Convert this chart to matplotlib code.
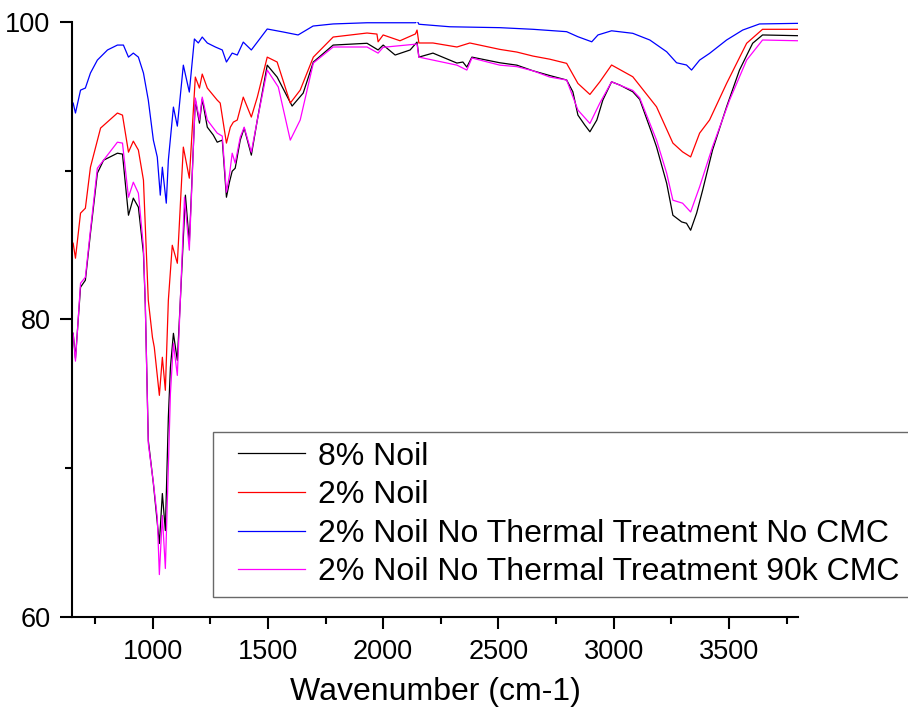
import matplotlib
matplotlib.use("Agg")
import matplotlib.pyplot as plt
from matplotlib.ticker import MultipleLocator
from matplotlib.legend_handler import HandlerLine2D

plt.rcParams['font.family'] = ['Liberation Sans', 'DejaVu Sans']

# FTIR transmittance (%) read against wavenumber (cm-1) for each sample
wn_8noil = [655, 665, 687, 708, 730, 760, 787, 847, 869, 895, 916, 938, 960, 968, 981, 1003,
            1029, 1042, 1055, 1068, 1077, 1090, 1107, 1120, 1142, 1159, 1185, 1203, 1215, 1237,
            1263, 1280, 1302, 1320, 1333, 1345, 1358, 1380, 1397, 1428, 1454, 1497, 1540, 1605,
            1653, 1697, 1783, 1930, 1978, 2000, 2052, 2117, 2147, 2155, 2216, 2320, 2346, 2363,
            2385, 2506, 2580, 2650, 2723, 2796, 2823, 2845, 2875, 2897, 2927, 2953, 2991, 3027,
            3083, 3113, 3164, 3186, 3230, 3257, 3295, 3316, 3334, 3360, 3386, 3429, 3490, 3546,
            3603, 3646, 3800]
tr_8noil = [79.07, 77.39, 82.17, 82.64, 85.8, 89.84, 90.71, 91.18, 91.12, 87.01, 88.16, 87.55,
            84.45, 81.0, 71.87, 68.98, 64.94, 68.3, 65.81, 73.42, 76.78, 79.07, 77.25, 81.29,
            88.36, 85.13, 94.75, 93.2, 94.82, 92.93, 92.4, 91.92, 92.06, 88.22, 89.23, 89.97,
            90.17, 92.06, 92.87, 91.05, 93.41, 97.1, 96.3, 94.35, 95.22, 97.31, 98.45, 98.57,
            98.12, 98.45, 97.78, 98.12, 98.65, 97.64, 97.91, 97.24, 97.31, 96.97, 97.64, 97.26,
            97.1, 96.72, 96.4, 96.1, 95.31, 93.74, 93.07, 92.62, 93.41, 94.75, 95.98, 95.76,
            95.31, 94.8, 92.6, 91.61, 89.16, 87.01, 86.56, 86.47, 86.0, 87.15, 88.69, 91.39,
            94.3, 96.77, 98.57, 99.13, 99.08]

wn_2noil = [655, 665, 687, 708, 730, 774, 847, 869, 895, 916, 938, 960, 970, 981, 999, 1007,
            1029, 1042, 1055, 1068, 1085, 1107, 1133, 1159, 1185, 1203, 1215, 1237, 1280, 1293,
            1320, 1337, 1350, 1367, 1393, 1428, 1454, 1497, 1540, 1597, 1640, 1697, 1783, 1930,
            1973, 1978, 2000, 2073, 2140, 2147, 2155, 2216, 2320, 2376, 2506, 2580, 2650, 2723,
            2796, 2845, 2897, 2940, 2991, 3083, 3186, 3257, 3299, 3334, 3373, 3416, 3490, 3577,
            3646, 3800]
tr_2noil = [85.13, 84.12, 87.15, 87.48, 90.24, 92.87, 93.88, 93.74, 91.25, 91.99, 91.39, 89.37,
            85.5, 81.29, 78.8, 78.13, 74.9, 77.46, 75.24, 81.29, 84.99, 83.78, 91.59, 89.5,
            96.3, 95.56, 96.5, 95.56, 94.75, 94.55, 91.86, 92.93, 93.27, 93.41, 94.95, 93.61,
            94.95, 97.64, 97.31, 94.55, 95.42, 97.64, 98.99, 99.26, 99.19, 98.67, 99.13, 98.74,
            99.2, 99.46, 98.59, 98.59, 98.32, 98.59, 98.16, 97.98, 97.71, 97.5, 97.22, 95.87,
            95.13, 95.98, 97.11, 96.32, 94.3, 91.86, 91.27, 90.93, 92.53, 93.41, 95.87, 98.57,
            99.51, 99.51]

wn_nt_nocmc = [655, 665, 687, 708, 730, 760, 804, 847, 873, 895, 916, 938, 960, 981, 1003, 1020,
               1033, 1042, 1059, 1068, 1090, 1107, 1133, 1159, 1181, 1198, 1215, 1237, 1272, 1302,
               1320, 1345, 1367, 1393, 1428, 1454, 1497, 1566, 1631, 1696, 1783, 1930, 2140, 2147,
               2155, 2290, 2433, 2506, 2650, 2796, 2845, 2905, 2932, 2991, 3083, 3157, 3230, 3273,
               3316, 3338, 3373, 3416, 3490, 3560, 3633, 3800]
tr_nt_nocmc = [94.55, 93.88, 95.42, 95.56, 96.57, 97.44, 98.12, 98.45, 98.45, 97.64, 97.91, 97.64,
               96.57, 94.75, 92.06, 90.92, 88.36, 90.24, 87.82, 90.71, 94.28, 93.0, 97.1, 95.29,
               98.86, 98.59, 98.99, 98.59, 98.32, 98.12, 97.31, 97.91, 97.78, 98.65, 98.12, 98.65,
               99.53, 99.33, 99.13, 99.73, 99.87, 99.95, 99.95, 100.1, 99.85, 99.68, 99.64, 99.62,
               99.51, 99.35, 99.01, 98.67, 99.13, 99.41, 99.24, 98.79, 98.0, 97.26, 97.11, 96.77,
               97.44, 97.89, 98.79, 99.46, 99.87, 99.91]

wn_nt_90k = [655, 665, 687, 708, 730, 760, 847, 869, 895, 916, 938, 960, 968, 981, 1003, 1020,
             1029, 1042, 1055, 1068, 1077, 1090, 1107, 1120, 1138, 1159, 1185, 1203, 1215, 1237,
             1280, 1302, 1320, 1333, 1345, 1358, 1380, 1397, 1428, 1454, 1497, 1545, 1597, 1640,
             1697, 1783, 1930, 1978, 2000, 2147, 2155, 2320, 2363, 2385, 2506, 2580, 2650, 2723,
             2796, 2845, 2897, 2940, 2991, 3083, 3113, 3186, 3230, 3257, 3299, 3334, 3373, 3429,
             3503, 3577, 3646, 3800]
tr_nt_90k = [79.07, 77.2, 82.44, 82.84, 86.0, 90.17, 91.92, 91.86, 88.22, 89.23, 88.49, 84.86,
             81.0, 71.67, 69.04, 66.69, 62.85, 66.82, 63.26, 70.05, 75.03, 78.4, 76.24, 81.29,
             88.22, 84.66, 94.89, 93.41, 94.95, 93.41, 92.53, 92.33, 88.56, 89.7, 91.18, 90.51,
             92.26, 92.93, 91.25, 93.41, 96.77, 95.63, 92.06, 93.41, 97.24, 98.32, 98.32, 97.91,
             98.3, 98.52, 97.64, 97.1, 96.77, 97.58, 97.1, 97.0, 96.72, 96.3, 96.1, 94.08, 93.18,
             94.55, 95.98, 95.4, 94.9, 92.06, 89.84, 88.02, 87.82, 87.23, 88.92, 91.61, 94.75,
             97.44, 98.79, 98.74]

labels = ["8% Noil", "2% Noil", "2% Noil No Thermal Treatment No CMC",
          "2% Noil No Thermal Treatment 90k CMC"]
colors = ["black", "red", "blue", "magenta"]

fig = plt.figure(figsize=(9.08, 7.17), dpi=100)
ax = fig.add_axes([0.0793, 0.1395, 0.7996, 0.8298])

series = [(wn_8noil, tr_8noil), (wn_2noil, tr_2noil),
          (wn_nt_nocmc, tr_nt_nocmc), (wn_nt_90k, tr_nt_90k)]
for (x, y), lab, c in zip(series, labels, colors):
    ax.plot(x, y, color=c, lw=0.9, label=lab)

ax.set_xlim(650, 3800)
ax.set_ylim(60, 100)
ax.xaxis.set_major_locator(MultipleLocator(500))
ax.xaxis.set_minor_locator(MultipleLocator(250))
ax.yaxis.set_major_locator(MultipleLocator(20))
ax.yaxis.set_minor_locator(MultipleLocator(10))

for side in ["top", "right"]:
    ax.spines[side].set_visible(False)
for side in ["left", "bottom"]:
    ax.spines[side].set_linewidth(1.5)

ax.tick_params(which="major", direction="out", length=8.5, width=1.5, labelsize=19.5, pad=7)
ax.tick_params(which="minor", direction="out", length=5, width=1.5)
ax.set_xlabel("Wavenumber (cm-1)", fontsize=23, labelpad=9)

# legend lines start a bit inside the frame
leg = ax.legend(loc="upper left", bbox_to_anchor=(213 / 908, 1 - 432 / 717),
                bbox_transform=fig.transFigure, fontsize=23, frameon=True, fancybox=False,
                borderaxespad=0, borderpad=0.3, labelspacing=0.27, handlelength=2.57,
                handletextpad=0.41, handler_map={plt.Line2D: HandlerLine2D(xpad=0.47)})
leg.get_frame().set_edgecolor("#444444")
leg.get_frame().set_linewidth(1.0)

fig.savefig("out.png", dpi=100)
